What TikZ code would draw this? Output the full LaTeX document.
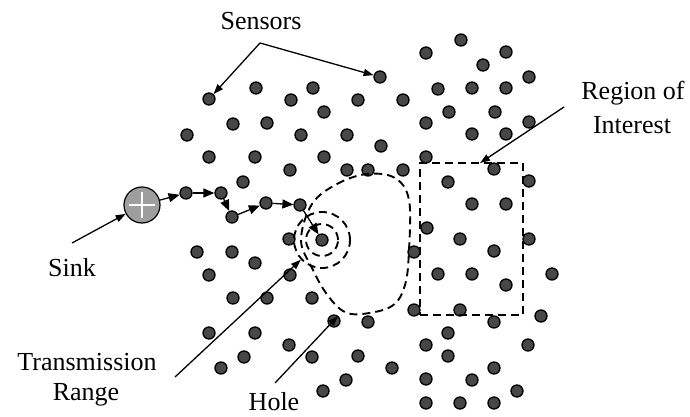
\documentclass[tikz,border=0pt]{standalone}
\usepackage{fontspec}
\setmainfont{Liberation Serif}
\usetikzlibrary{arrows.meta}
\begin{document}
\begin{tikzpicture}[x=1pt,y=-1pt,
  sensor/.style={circle,draw=black,line width=1.3pt,fill=black!72,minimum size=12pt,inner sep=0pt},
  sinknode/.style={circle,draw=black,line width=1.2pt,fill=black!38,minimum size=36pt,inner sep=0pt},
  txt/.style={font=\fontsize{26}{30}\selectfont,inner sep=0pt,anchor=base},
  pointer/.style={line width=1.3pt,-{Triangle[length=10pt,width=7pt]}},
  hop/.style={line width=1.3pt,-{Triangle[length=11pt,width=9pt]}},
  dashline/.style={line width=1.9pt,dash pattern=on 8pt off 5pt},
]
\useasboundingbox (0,0) rectangle (690,417);

% ordinary sensors
\foreach \x/\y [count=\i] in {
 256/88,291/100,313/88,324/112,358/100,233/124,267/123,187/135,301/135,347/135,
 209/157,255/157,324/157,290/170,243/182,347/170,368/170,
 426/53,461/40,506/52,483/65,529/77,403/100,438/89,472/88,506/88,449/112,495/112,
 426/123,472/134,506/134,529/122,381/146,426/157,403/170,494/169,448/182,529/181,472/204,506/204,
 427/228,460/239,529/239,494/251,414/252,438/274,472/274,552/274,506/285,
 414/310,460/310,368/322,494/322,541/316,448/333,426/345,528/345,358/356,448/356,392/368,494/368,
 346/380,426/379,472/380,517/391,426/403,460/403,494/403,
 289/239,197/252,232/252,255/263,209/275,290/275,233/298,267/298,312/298,334/321,
 209/333,255/333,289/345,244/357,312/357,221/368,323/391}
  \node[sensor] (n\i) at (\x,\y) {};

% sensors pointed at
\node[sensor] (sA) at (209,99) {};
\node[sensor] (sB) at (380,77) {};

% routing path
\node[sinknode] (sink) at (142,205) {};
\draw[white,line width=2pt] (142,192) -- (142,218) (129,205) -- (155,205);
\node[sensor] (p1) at (186,193) {};
\node[sensor] (p2) at (221,193) {};
\node[sensor] (p3) at (232,217) {};
\node[sensor] (p4) at (266,203) {};
\node[sensor] (p5) at (300,205) {};
\node[sensor] (p6) at (322,240) {};
\draw[hop] (sink) -- (p1);
\draw[hop] (p1) -- (p2);
\draw[hop] (p2) -- (p3);
\draw[hop] (p3) -- (p4);
\draw[hop] (p4) -- (p5);
\draw[hop] (p5) -- (p6);

% transmission ranges
\node[circle,draw,dashline,minimum size=56pt,inner sep=0pt] (range) at (322,240) {};
\node[circle,draw,dashline,minimum size=32pt,inner sep=0pt] (inner) at (322,240) {};

% hole
\draw[dashline] plot[smooth cycle,tension=0.6] coordinates {(312,204) (337,184) (367,174) (395,178) (409,200) (409,250) (405,285) (392,306) (362,314) (343,311) (326,293) (312,268) (301,240)};

% region of interest
\node[draw,dashline,minimum width=103pt,minimum height=152pt,inner sep=0pt] (roi) at (471.5,239) {};

% labels
\node[txt] (sensors) at (261,30) {Sensors};
\node[txt] (sinklbl) at (72,276) {Sink};
\node[txt] (trans) at (87,370) {Transmission};
\node[txt] (rng) at (86,400) {Range};
\node[txt] (hole) at (274,410) {Hole};
\node[txt] (reg) at (633,100) {Region of};
\node[txt] (int) at (632,133) {Interest};

% pointers
\coordinate (sens0) at (260,43);
\coordinate (sink0) at (72,243);
\coordinate (tr0) at (175,377);
\coordinate (hole0) at (275,383);
\coordinate (holeTip) at (338,316);
\coordinate (roi0) at (564,107);
\coordinate (roiTip) at (480,163);
\draw[pointer] (sens0) -- (sA);
\draw[pointer] (sens0) -- (sB);
\draw[pointer] (sink0) -- (sink);
\draw[pointer] (tr0) -- (range);
\draw[pointer] (hole0) -- (holeTip);
\draw[pointer] (roi0) -- (roiTip);
\end{tikzpicture}
\end{document}
